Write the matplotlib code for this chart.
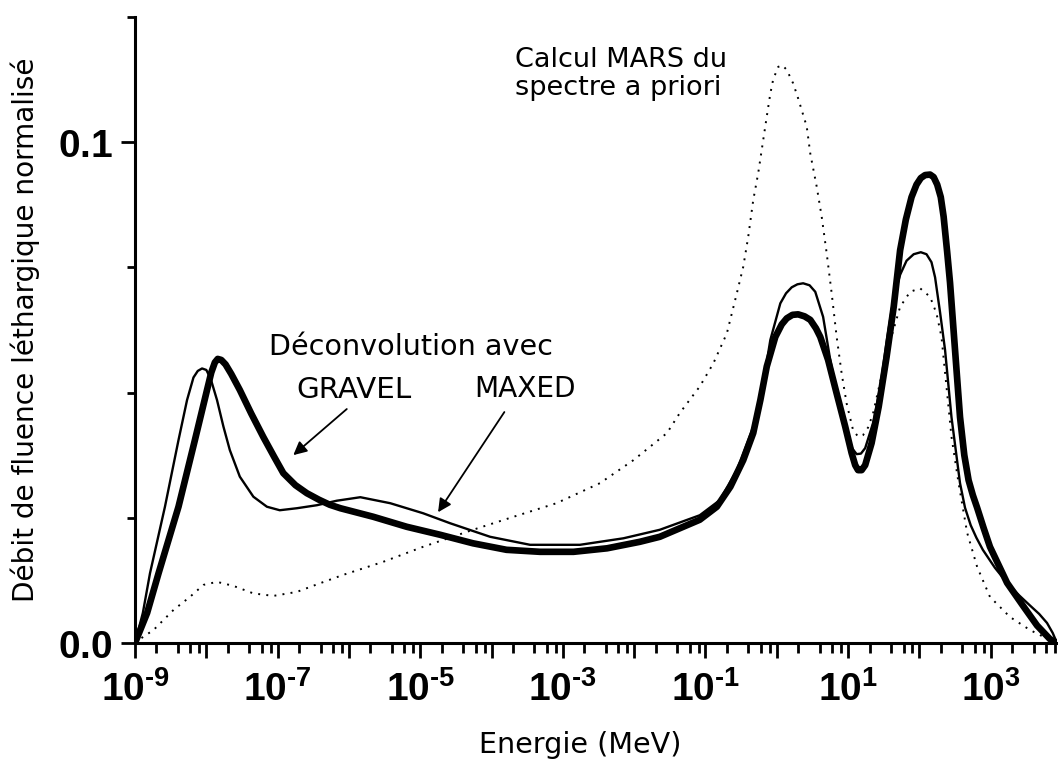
import numpy as np
import matplotlib
matplotlib.use("Agg")
import matplotlib.pyplot as plt
from matplotlib.ticker import FixedLocator, FuncFormatter

# ---- data: log10(E/MeV) and normalised lethargy fluence ----
gravel_logE = [-9.00, -8.83, -8.67, -8.39, -8.16, -7.99, -7.93, -7.88, -7.84, -7.79,
               -7.73, -7.65, -7.53, -7.37, -7.20, -7.05, -6.92, -6.75, -6.59, -6.42,
               -6.27, -6.12, -5.66, -5.19, -4.72, -4.26, -3.79, -3.32, -2.85, -2.38,
               -1.92, -1.64, -1.36, -1.08, -0.84, -0.65, -0.47, -0.33, -0.23, -0.14,
               -0.02, 0.07, 0.14, 0.22, 0.30, 0.39, 0.47, 0.55, 0.61, 0.72,
               0.84, 0.96, 1.05, 1.10, 1.14, 1.19, 1.24, 1.33, 1.43, 1.54,
               1.64, 1.73, 1.81, 1.89, 1.96, 2.02, 2.08, 2.15, 2.20, 2.25,
               2.30, 2.34, 2.39, 2.43, 2.50, 2.57, 2.63, 2.69, 2.75, 2.81,
               2.90, 2.99, 3.23, 3.45, 3.65, 3.83, 3.93]
gravel_val = [0.0, 0.0060, 0.0139, 0.0272, 0.0405, 0.0505, 0.0540, 0.0560, 0.0567, 0.0565,
              0.0556, 0.0537, 0.0505, 0.0458, 0.0411, 0.0372, 0.0339, 0.0315, 0.0299, 0.0286,
              0.0276, 0.0269, 0.0252, 0.0232, 0.0216, 0.0199, 0.0186, 0.0182, 0.0182, 0.0189,
              0.0202, 0.0212, 0.0229, 0.0246, 0.0272, 0.0312, 0.0365, 0.0419, 0.0485, 0.0552,
              0.0611, 0.0636, 0.0648, 0.0655, 0.0656, 0.0652, 0.0645, 0.0628, 0.0611, 0.0565,
              0.0498, 0.0432, 0.0379, 0.0355, 0.0345, 0.0345, 0.0355, 0.0399, 0.0472, 0.0571,
              0.0671, 0.0784, 0.0845, 0.0890, 0.0915, 0.0928, 0.0934, 0.0935, 0.0930, 0.0915,
              0.0890, 0.0851, 0.0780, 0.0719, 0.0585, 0.0451, 0.0375, 0.0325, 0.0295, 0.0270,
              0.0230, 0.0192, 0.0120, 0.0075, 0.0035, 0.0008, 0.0]

maxed_logE = [-9.00, -8.89, -8.79, -8.58, -8.39, -8.27, -8.18, -8.12, -8.06, -8.00,
              -7.94, -7.85, -7.76, -7.67, -7.53, -7.34, -7.15, -6.97, -6.73, -6.45,
              -6.17, -5.84, -5.42, -4.96, -4.58, -4.02, -3.46, -2.76, -2.15, -1.64,
              -1.08, -0.80, -0.56, -0.33, -0.19, -0.09, 0.05, 0.13, 0.21, 0.29,
              0.37, 0.46, 0.54, 0.65, 0.75, 0.86, 0.98, 1.06, 1.12, 1.18,
              1.24, 1.35, 1.45, 1.55, 1.64, 1.73, 1.82, 1.92, 2.02, 2.10,
              2.17, 2.22, 2.29, 2.36, 2.45, 2.57, 2.64, 2.72, 2.80, 2.89,
              3.06, 3.23, 3.40, 3.55, 3.68, 3.79, 3.87, 3.93]
maxed_val = [0.0, 0.0060, 0.0139, 0.0272, 0.0405, 0.0485, 0.0530, 0.0543, 0.0548, 0.0545,
             0.0528, 0.0485, 0.0432, 0.0385, 0.0332, 0.0292, 0.0272, 0.0265, 0.0269, 0.0275,
             0.0284, 0.0291, 0.0279, 0.0259, 0.0239, 0.0212, 0.0196, 0.0196, 0.0209, 0.0226,
             0.0255, 0.0285, 0.0345, 0.0432, 0.0518, 0.0605, 0.0678, 0.0698, 0.0710, 0.0716,
             0.0718, 0.0714, 0.0701, 0.0651, 0.0565, 0.0485, 0.0419, 0.0388, 0.0377, 0.0378,
             0.0389, 0.0439, 0.0510, 0.0610, 0.0690, 0.0735, 0.0763, 0.0776, 0.0780, 0.0776,
             0.0760, 0.0730, 0.0660, 0.0585, 0.0451, 0.0319, 0.0270, 0.0235, 0.0210, 0.0186,
             0.0150, 0.0120, 0.0095, 0.0075, 0.0058, 0.0040, 0.0020, 0.0]

mars_logE = [-9.00, -8.95, -8.74, -8.46, -8.23, -8.04, -7.85, -7.62, -7.34, -7.06,
             -6.73, -6.41, -6.08, -5.52, -4.96, -4.26, -3.69, -3.09, -2.48, -2.01,
             -1.54, -1.36, -1.08, -0.89, -0.70, -0.56, -0.47, -0.40, -0.33, -0.26,
             -0.19, -0.14, -0.09, -0.05, 0.02, 0.08, 0.14, 0.23, 0.30, 0.42, 0.47,
             0.56, 0.63, 0.70, 0.77, 0.84, 0.91, 0.98, 1.07, 1.14, 1.21, 1.28, 1.35,
             1.54, 1.73, 1.87, 2.01, 2.15, 2.24, 2.31, 2.38, 2.45, 2.55,
             2.67, 2.81, 2.99, 3.27, 3.55, 3.83, 3.93]
mars_val = [0.0, 0.0006, 0.0026, 0.0066, 0.0092, 0.0116, 0.0122, 0.0114, 0.0099, 0.0094,
            0.0102, 0.0119, 0.0136, 0.0162, 0.0192, 0.0226, 0.0252, 0.0279, 0.0319, 0.0365,
            0.0419, 0.0459, 0.0512, 0.0558, 0.0618, 0.0698, 0.0751, 0.0811, 0.0884, 0.0938,
            0.1004, 0.1051, 0.1097, 0.1125, 0.1150, 0.1153, 0.1144, 0.1117, 0.1087, 0.1031, 0.0977,
            0.0911, 0.0851, 0.0778, 0.0698, 0.0611, 0.0538, 0.0478, 0.0425, 0.0412, 0.0415, 0.0430, 0.0458,
            0.0578, 0.0671, 0.0701, 0.0708, 0.0691, 0.0658, 0.0611, 0.0512, 0.0412, 0.0319,
            0.0220, 0.0152, 0.0092, 0.0052, 0.0026, 0.0006, 0.0]

x_major = [-9, -8, -7, -6, -5, -4, -3, -2, -1, 0, 1, 2, 3]
x_labelled = [-9, -7, -5, -3, -1, 1, 3]
y_major = [0.0, 0.1]
y_minor = [0.025, 0.05, 0.075, 0.125]

plt.rcParams['mathtext.fontset'] = 'custom'
plt.rcParams['mathtext.rm'] = 'Liberation Sans:bold'
plt.rcParams['mathtext.bf'] = 'Liberation Sans:bold'
plt.rcParams['mathtext.it'] = 'Liberation Sans:bold'

W, H = 1058, 762
fig = plt.figure(figsize=(W / 100, H / 100), dpi=100)
ax = fig.add_axes([135 / W, (H - 643) / H, (1057 - 135) / W, (643 - 16.75) / H])

ax.plot(10 ** np.array(mars_logE), mars_val, color='black', lw=1.4,
        linestyle=(0, (1, 3.2)))
ax.plot(10 ** np.array(maxed_logE), maxed_val, color='black', lw=1.7,
        solid_joinstyle='round')
ax.plot(10 ** np.array(gravel_logE), gravel_val, color='black', lw=4.8,
        solid_capstyle='round', solid_joinstyle='round')

ax.set_xscale('log')
ax.set_xlim(1e-9, 10 ** 3.93)
ax.set_ylim(0, 0.125)

for s in ['top', 'right']:
    ax.spines[s].set_visible(False)
for s in ['left', 'bottom']:
    ax.spines[s].set_linewidth(2.2)

ax.xaxis.set_major_locator(FixedLocator([10.0 ** e for e in x_major]))
minors = [m * 10.0 ** e for e in x_major for m in (2, 4, 6, 8) if m * 10.0 ** e < 10 ** 3.93]
ax.xaxis.set_minor_locator(FixedLocator(minors))


def xfmt(v, pos):
    e = int(round(np.log10(v)))
    if e in x_labelled:
        sign = '\u2010' if e < 0 else ''
        return r'$\mathbf{10^{%s%d}}$' % (sign, abs(e))
    return ''


ax.xaxis.set_major_formatter(FuncFormatter(xfmt))
ax.xaxis.set_minor_formatter(FuncFormatter(lambda v, p: ''))

ax.yaxis.set_major_locator(FixedLocator(y_major))
ax.yaxis.set_minor_locator(FixedLocator(y_minor))
ax.yaxis.set_major_formatter(FuncFormatter(lambda v, p: r'$\mathbf{%.1f}$' % v))

ax.tick_params(axis='x', which='major', direction='out', length=11, width=2, pad=9,
               labelsize=28)
ax.tick_params(axis='x', which='minor', direction='out', length=7, width=2)
ax.tick_params(axis='y', which='major', direction='out', length=10, width=2, pad=6,
               labelsize=28)
ax.tick_params(axis='y', which='minor', direction='out', length=6, width=2)

ff = 'DejaVu Sans'
ax.text(10 ** -3.67, 0.1150, 'Calcul MARS du', ha='left', va='baseline',
        family=ff, fontsize=19.5)
ax.text(10 ** -3.67, 0.1094, 'spectre a priori', ha='left', va='baseline',
        family=ff, fontsize=19.5)
ax.text(10 ** -5.13, 0.0575, 'Déconvolution avec', ha='center', va='baseline',
        family=ff, fontsize=20.6)
ax.text(10 ** -5.93, 0.0489, 'GRAVEL', ha='center', va='baseline',
        family=ff, fontsize=21.2)
ax.text(10 ** -3.53, 0.0491, 'MAXED', ha='center', va='baseline',
        family=ff, fontsize=20.2)

ap = dict(arrowstyle='-|>', color='black', lw=1.3, mutation_scale=20,
          shrinkA=0, shrinkB=0)
ax.annotate('', xy=(10 ** -6.78, 0.0375), xytext=(10 ** -6.03, 0.0467), arrowprops=ap)
ax.annotate('', xy=(10 ** -4.75, 0.0261), xytext=(10 ** -3.82, 0.0461), arrowprops=ap)

fig.text(580 / W, (H - 745) / H, 'Energie (MeV)', ha='center', va='center',
         family=ff, fontsize=20.6)
fig.text(25 / W, (H - 330) / H, 'Débit de fluence léthargique normalisé', ha='center',
         va='center', rotation=90, family=ff, fontsize=20.2)

fig.savefig('out.png', dpi=100)
